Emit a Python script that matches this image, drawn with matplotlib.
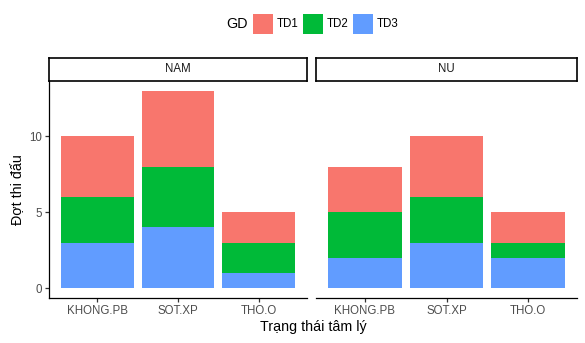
import matplotlib.pyplot as plt
from matplotlib.patches import Rectangle

plt.rcParams['font.family'] = ['Liberation Sans', 'DejaVu Sans']

categories = ['KHONG.PB', 'SOT.XP', 'THO.O']
panels = ['NAM', 'NU']
groups = ['TD3', 'TD2', 'TD1']  # bottom to top
colors = {'TD1': '#F8766D', 'TD2': '#00BA38', 'TD3': '#619CFF'}

# counts per panel, per group, per category
nam_td3 = [3, 4, 1]
nam_td2 = [3, 4, 2]
nam_td1 = [4, 5, 2]
nu_td3 = [2, 3, 2]
nu_td2 = [3, 3, 1]
nu_td1 = [3, 4, 2]

data = {
    'NAM': {'TD3': nam_td3, 'TD2': nam_td2, 'TD1': nam_td1},
    'NU': {'TD3': nu_td3, 'TD2': nu_td2, 'TD1': nu_td1},
}

W, H = 585, 343
fig = plt.figure(figsize=(W / 100, H / 100), dpi=100)

tick_col = '#4D4D4D'
tick_fs = 8.3
title_fs = 10.3
ymax = max(sum(v) for p in data.values() for v in zip(*p.values()))
pad = ymax * 0.05

panel_x = [(49, 307), (316, 577)]
top, bottom = 81, 298
strip_top = 58

for i, name in enumerate(panels):
    x0, x1 = panel_x[i]
    ax = fig.add_axes([x0 / W, 1 - bottom / H, (x1 - x0) / W, (bottom - top) / H])
    base = [0] * len(categories)
    xs = range(1, len(categories) + 1)
    for g in groups:
        vals = data[name][g]
        ax.bar(xs, vals, bottom=base, width=0.9, color=colors[g], linewidth=0)
        base = [b + v for b, v in zip(base, vals)]
    ax.set_xlim(0.4, len(categories) + 0.6)
    ax.set_ylim(-pad, ymax + pad)
    ax.set_xticks(list(xs))
    ax.set_xticklabels(categories, fontsize=tick_fs, color=tick_col)
    ax.set_yticks([0, 5, 10])
    for s in ['top', 'right']:
        ax.spines[s].set_visible(False)
    ax.spines['bottom'].set_linewidth(0.9)
    ax.tick_params(axis='both', length=3, width=0.9, color='#333333', pad=2)
    if i == 0:
        ax.set_yticklabels(['0', '5', '10'], fontsize=tick_fs, color=tick_col)
        ax.spines['left'].set_linewidth(0.9)
        ax.set_ylabel('Đợt thi đấu', fontsize=title_fs, labelpad=3)
    else:
        ax.spines['left'].set_visible(False)
        ax.tick_params(axis='y', left=False, labelleft=False)

    # facet strip
    sax = fig.add_axes([x0 / W, 1 - top / H, (x1 - x0) / W, (top - strip_top) / H])
    sax.set_xticks([])
    sax.set_yticks([])
    for s in sax.spines.values():
        s.set_linewidth(1.2)
    sax.text(0.5, 0.5, name, ha='center', va='center', fontsize=tick_fs,
             color='#1A1A1A', transform=sax.transAxes)

fig.text((49 + 577) / 2 / W, 1 - 327 / H, 'Trạng thái tâm lý', ha='center',
         va='center', fontsize=title_fs)

# legend on top
ly = 1 - 24 / H
fig.text(226 / W, ly, 'GD', ha='left', va='center', fontsize=title_fs)
key_x = [253, 303, 353]
for g, kx in zip(['TD1', 'TD2', 'TD3'], key_x):
    fig.patches.append(Rectangle((kx / W, 1 - 34 / H), 20 / W, 20 / H,
                                 transform=fig.transFigure, color=colors[g],
                                 linewidth=0))
    fig.text((kx + 24) / W, ly, g, ha='left', va='center', fontsize=tick_fs)

fig.savefig('out.png', dpi=100, facecolor='white')
